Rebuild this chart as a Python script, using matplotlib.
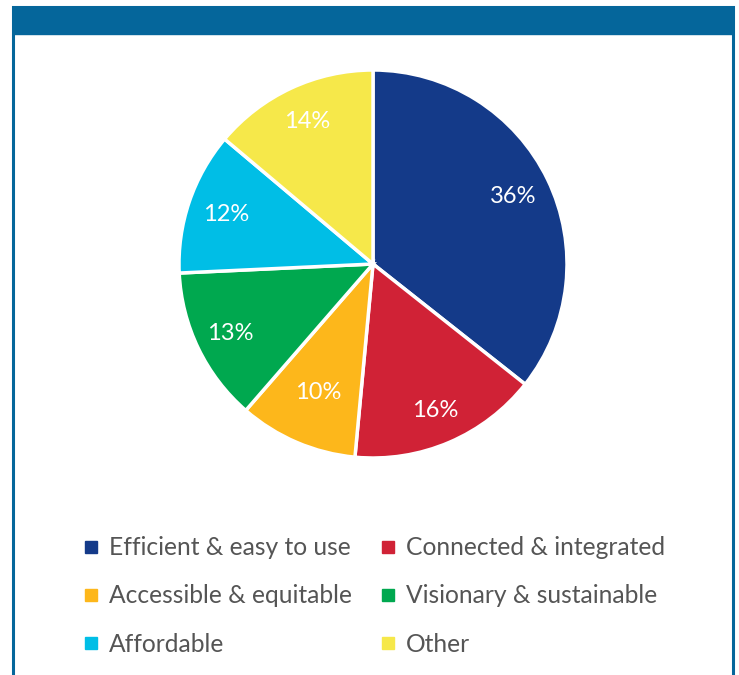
import numpy as np
import matplotlib
matplotlib.use("Agg")
import matplotlib.pyplot as plt
from matplotlib.patches import Rectangle
from matplotlib.lines import Line2D

labels = ["Efficient & easy to use", "Connected & integrated", "Accessible & equitable",
          "Visionary & sustainable", "Affordable", "Other"]
shares = [36, 16, 10, 13, 12, 14]
colors = ["#143a89", "#d02236", "#fdb71b", "#00a84f", "#00bee6", "#f6e84a"]
label_dist = [0.80, 0.82, 0.72, 0.82, 0.80, 0.81]

plt.rcParams['font.family'] = ['Lato', 'DejaVu Sans']

W, H = 739, 675
fig = plt.figure(figsize=(W / 100, H / 100), dpi=100)

# frame and header bar
border = "#05669b"
fig.patches.append(Rectangle((13 / W, -0.05), 720 / W, 1.05 - 7 / H, transform=fig.transFigure,
                             facecolor="white", edgecolor=border, linewidth=2.2, zorder=-2))
fig.patches.append(Rectangle((13 / W, 1 - 34 / H), 720 / W, 27 / H, transform=fig.transFigure,
                             facecolor=border, edgecolor=border, linewidth=1, zorder=-1))

# pie
cx, cy, r = 373, 264, 194
ax = fig.add_axes([(cx - r) / W, 1 - (cy + r) / H, 2 * r / W, 2 * r / H])
ax.set_zorder(2)
wedges, texts, autotexts = ax.pie(
    shares, colors=colors, startangle=90, counterclock=False,
    autopct=lambda p: f"{p * sum(shares) / 100:.0f}%", pctdistance=0.8,
    wedgeprops=dict(edgecolor="white", linewidth=2.5),
    textprops=dict(color="white", fontsize=17))
# nudge each percentage along its wedge's mid-angle
for w, t, d in zip(wedges, autotexts, label_dist):
    ang = np.deg2rad((w.theta1 + w.theta2) / 2)
    t.set_position((d * np.cos(ang), d * np.sin(ang)))
ax.set_xlim(-1, 1)
ax.set_ylim(-1, 1)
ax.set_aspect("equal")
ax.axis("off")

# legend, filled row by row
order = [0, 2, 4, 1, 3, 5]
handles = [Line2D([], [], marker="s", linestyle="none", markersize=9,
                  markerfacecolor=colors[i], markeredgecolor=colors[i]) for i in order]
leg = fig.legend(handles, [labels[i] for i in order], ncol=2, loc="upper left",
                 bbox_to_anchor=(61 / W, 1 - 514 / H), frameon=False,
                 fontsize=17.7, labelcolor="#555555", handlelength=0.6,
                 handletextpad=0.45, columnspacing=1.15, labelspacing=1.03)

fig.savefig("out.png", dpi=100)
